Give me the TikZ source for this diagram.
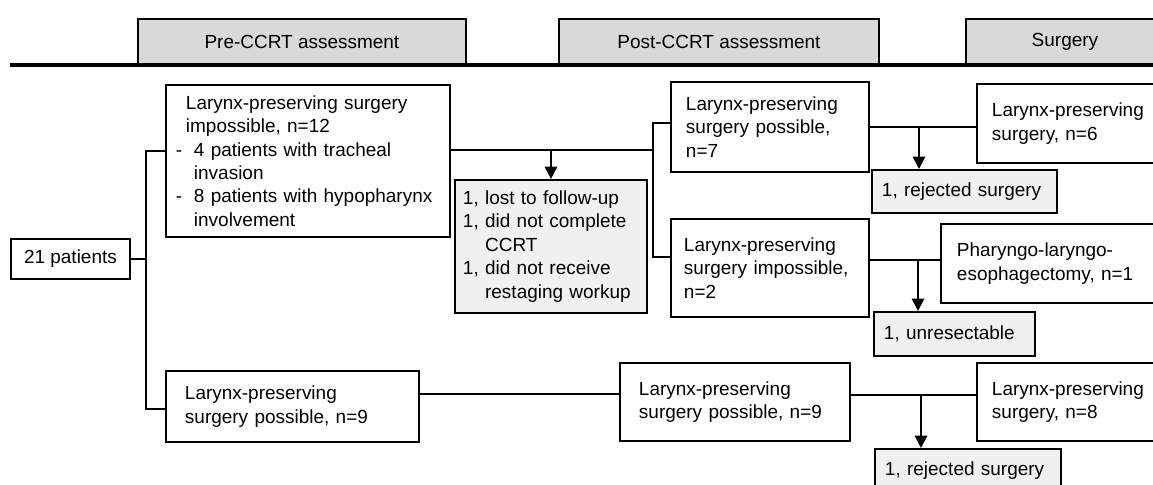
\documentclass[tikz,border=0pt]{standalone}
\usepackage{fontspec}
\setmainfont{Liberation Sans}
\usetikzlibrary{arrows.meta}

\tikzset{
  box/.style={draw, line width=1.1pt, anchor=north west, align=left,
    font=\fontsize{10.8pt}{13.3pt}\selectfont},
  note/.style={box, fill=black!6},
  hdr/.style={draw, line width=1.1pt, fill=black!15, anchor=north west,
    minimum height=0.92cm, font=\fontsize{10.8pt}{13.3pt}\selectfont},
  link/.style={line width=1.1pt},
  arr/.style={line width=1.1pt, -{Triangle[width=7pt,length=7pt]}}
}

\begin{document}
\begin{tikzpicture}[x=0.02cm, y=-0.02cm]
			%%%%% START %%%%%
			\useasboundingbox (0,0) rectangle (1153,484);
			\clip (0,0) rectangle (1153,484);
			
			% phases
			\node[hdr, minimum width=6.56cm] (pre) at (137,18) {Pre-CCRT assessment};
			\node[hdr, minimum width=6.4cm] (post) at (558,18) {Post-CCRT assessment};
			\node[hdr, minimum width=3.96cm] (surg) at (965,18) {Surgery};
			\draw[line width=1.8pt] (10,65) -- (1153,65);
			
			% pre-CCRT
			\node[box, minimum width=2.38cm, minimum height=0.8cm] (pts) at (10,238) {21 patients};
			\node[box, inner xsep=0.2cm, text width=5.28cm, minimum height=3.04cm] (imp12) at (165,84)
				{\hspace*{0.2cm}Larynx-preserving surgery\\
				 \hspace*{0.2cm}impossible, n=12\\
				 \makebox[0.36cm][l]{-}4 patients with tracheal\\
				 \hspace*{0.36cm}invasion\\
				 \makebox[0.36cm][l]{-}8 patients with hypopharynx\\
				 \hspace*{0.36cm}involvement};
			\node[box, inner xsep=0.38cm, text width=4.3cm, minimum height=1.42cm] (pos9) at (165,370)
				{Larynx-preserving\\surgery possible, n=9};
			
			% post-CCRT
			\node[note, inner xsep=0.16cm, text width=3.52cm, minimum height=2.66cm] (lost) at (454,179)
				{1, lost to follow-up\\
				 1, did not complete\\
				 \phantom{1, }CCRT\\
				 1, did not receive\\
				 \phantom{1, }restaging workup};
			\node[box, inner xsep=0.3cm, text width=3.36cm, minimum height=1.8cm] (pos7) at (670,81)
				{Larynx-preserving\\surgery possible,\\n=7};
			\node[box, inner xsep=0.26cm, text width=3.44cm, minimum height=1.96cm] (imp2) at (670,218)
				{Larynx-preserving\\surgery impossible,\\n=2};
			\node[box, inner xsep=0.38cm, text width=3.84cm, minimum height=1.56cm] (pos9b) at (619,362)
				{Larynx-preserving\\surgery possible, n=9};
			
			% surgery
			\node[box, inner xsep=0.3cm, text width=3.38cm, minimum height=1.58cm] (lps6) at (976,83)
				{Larynx-preserving\\surgery, n=6};
			\node[note, inner xsep=0.2cm, text width=3.3cm, minimum height=0.86cm] (rej1) at (871,169)
				{1, rejected surgery};
			\node[box, inner xsep=0.32cm, text width=4.06cm, minimum height=1.58cm] (ple1) at (940,223)
				{Pharyngo-laryngo-\\esophagectomy, n=1};
			\node[note, inner xsep=0.2cm, text width=2.82cm, minimum height=0.88cm] (unres) at (873,311)
				{1, unresectable};
			\node[box, inner xsep=0.3cm, text width=3.38cm, minimum height=1.56cm] (lps8) at (976,362)
				{Larynx-preserving\\surgery, n=8};
			\node[note, inner xsep=0.2cm, text width=3.32cm, minimum height=0.88cm] (rej2) at (874,448)
				{1, rejected surgery};
			
			% connectors
			\coordinate (trunk) at (146,259);
			\draw[link] (pts.east) -- (trunk);
			\draw[link] (imp12.west |- 0,151) -| (trunk) |- (pos9.west |- 0,409);
			
			\coordinate (jA) at (653,150);
			\draw[link] (imp12.east |- jA) -- (jA);
			\draw[link] (pos7.west |- 0,123) -| (jA) |- (imp2.west |- 0,257);
			\draw[arr] (lost.north |- jA) -- (lost.north);
			
			\coordinate (jC) at (919,127);
			\draw[link] (pos7.east |- jC) -- (lps6.west |- jC);
			\draw[arr] (jC) -- (jC |- rej1.north);
			
			\coordinate (jD) at (918,260);
			\draw[link] (imp2.east |- jD) -- (ple1.west |- jD);
			\draw[arr] (jD) -- (jD |- unres.north);
			
			\coordinate (jJ) at (921,395);
			\draw[link] (pos9.east |- 0,394) -- (pos9b.west |- 0,394);
			\draw[link] (pos9b.east |- jJ) -- (lps8.west |- jJ);
			\draw[arr] (jJ) -- (jJ |- rej2.north);
			
			%%%%% END %%%%%
\end{tikzpicture}
\end{document}
